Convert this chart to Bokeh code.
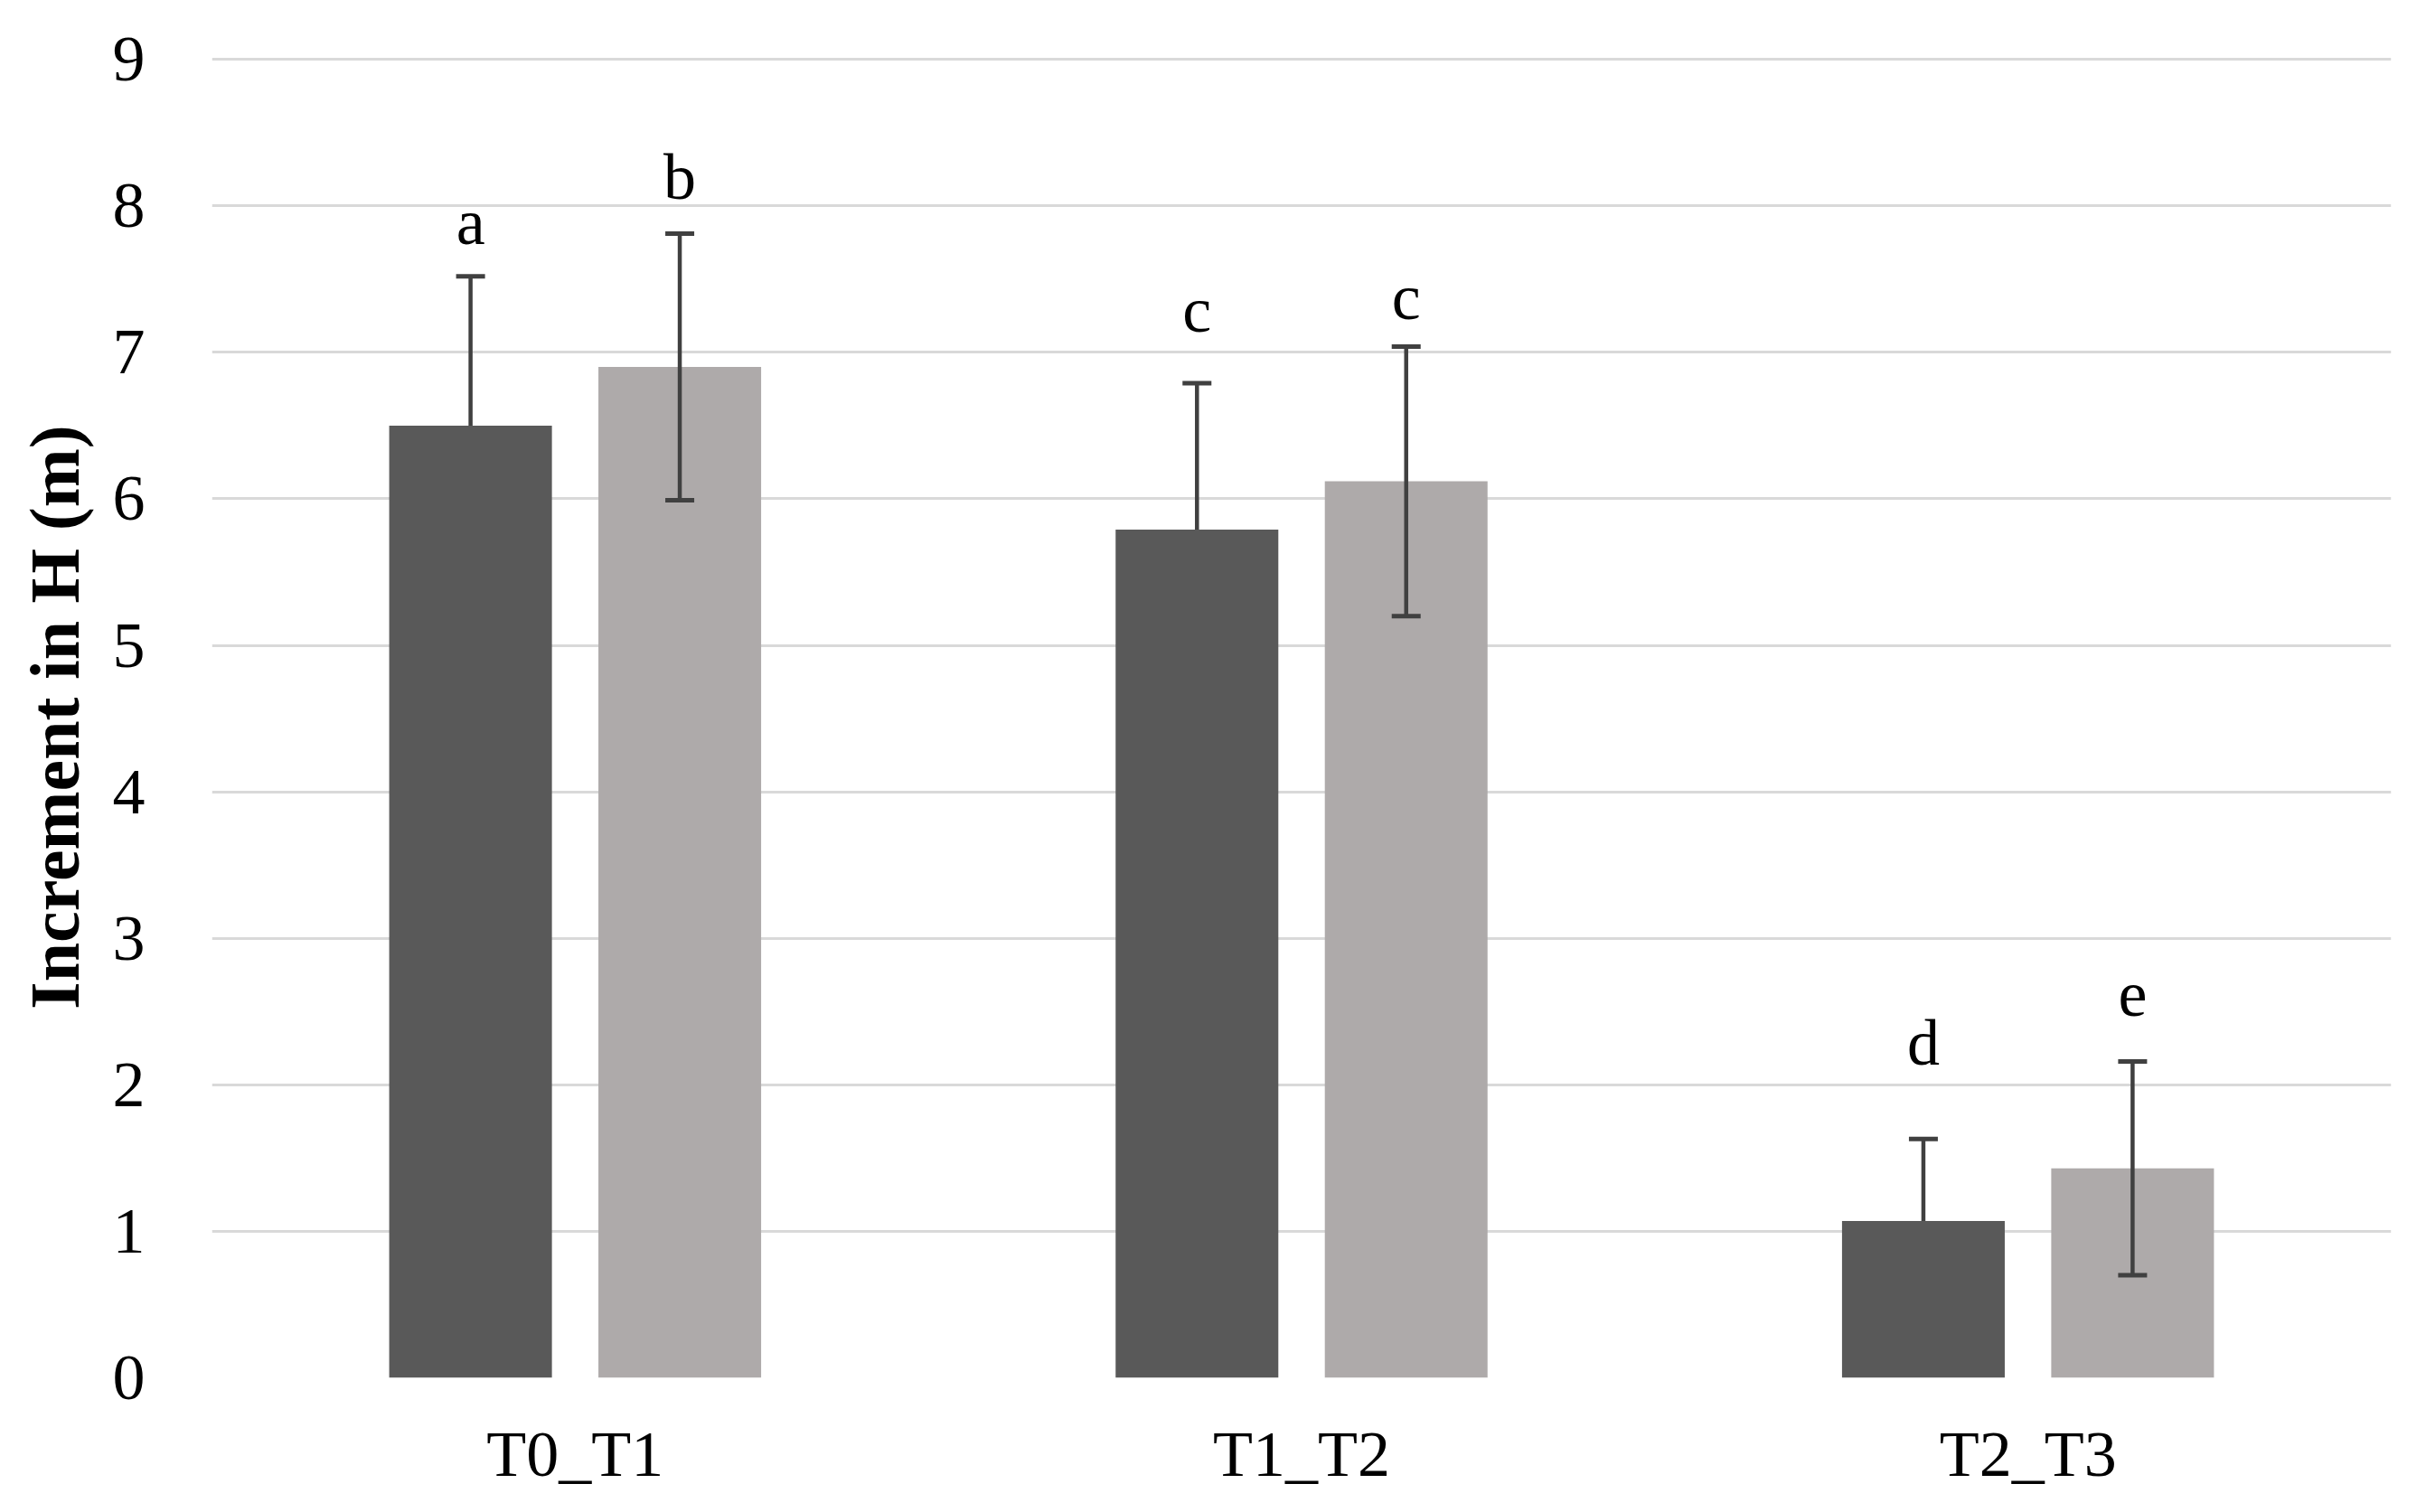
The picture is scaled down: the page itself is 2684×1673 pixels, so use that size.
from bokeh.plotting import figure
from bokeh.models import ColumnDataSource, Range1d, Whisker, FixedTicker, TeeHead
from bokeh.transform import dodge
from bokeh.core.properties import value
from bokeh.embed import file_html
from bokeh.resources import INLINE

categories = ["T0_T1", "T1_T2", "T2_T3"]
series1_values = [6.50, 5.79, 1.07]
series1_errors = [1.02, 1.00, 0.56]
series2_values = [6.90, 6.12, 1.43]
series2_errors = [0.91, 0.92, 0.73]
series1_letters = ["a", "c", "d"]
series2_letters = ["b", "c", "e"]
series1_letter_y = [7.72, 7.12, 2.12]
series2_letter_y = [8.03, 7.21, 2.45]
y_ticks = [0, 1, 2, 3, 4, 5, 6, 7, 8, 9]

FONT = "Liberation Serif"
DARK = "#595959"
LIGHT = "#AEAAAA"
ERR = "#404040"

src1 = ColumnDataSource(dict(
    cat=categories, val=series1_values,
    up=[v + e for v, e in zip(series1_values, series1_errors)],
    lo=series1_values,
    lab=series1_letters, ly=series1_letter_y))
src2 = ColumnDataSource(dict(
    cat=categories, val=series2_values,
    up=[v + e for v, e in zip(series2_values, series2_errors)],
    lo=[v - e for v, e in zip(series2_values, series2_errors)],
    lab=series2_letters, ly=series2_letter_y))

p = figure(x_range=categories, y_range=Range1d(0, 9.02),
           width=2668, height=1657, output_backend="svg",
           toolbar_location=None, min_border_left=234, min_border_right=23,
           min_border_top=62, min_border_bottom=133)
p.outline_line_color = None
p.background_fill_color = "white"
p.border_fill_color = "white"

off = 0.144
bw = 0.224
p.vbar(x=dodge("cat", -off, range=p.x_range), top="val", width=bw, source=src1,
       fill_color=DARK, line_color=None)
p.vbar(x=dodge("cat", off, range=p.x_range), top="val", width=bw, source=src2,
       fill_color=LIGHT, line_color=None)

w1 = Whisker(source=src1, base=dodge("cat", -off, range=p.x_range), upper="up", lower="lo",
             line_color=ERR, line_width=4.5, level="overlay",
             upper_head=TeeHead(size=32, line_color=ERR, line_width=5),
             lower_head=None)
w2 = Whisker(source=src2, base=dodge("cat", off, range=p.x_range), upper="up", lower="lo",
             line_color=ERR, line_width=4.5, level="overlay",
             upper_head=TeeHead(size=32, line_color=ERR, line_width=5),
             lower_head=TeeHead(size=32, line_color=ERR, line_width=5))
p.add_layout(w1)
p.add_layout(w2)

for src, o in ((src1, -off), (src2, off)):
    p.text(x=dodge("cat", o, range=p.x_range), y="ly", text="lab", source=src,
           text_font=value(FONT), text_font_size="72px", text_color="black",
           text_align="center", text_baseline="alphabetic", y_offset=-27)

p.xgrid.grid_line_color = None
p.ygrid.grid_line_color = "#D9D9D9"
p.ygrid.grid_line_width = 3
p.yaxis.ticker = FixedTicker(ticks=y_ticks)

for ax in (p.xaxis[0], p.yaxis[0]):
    ax.axis_line_color = None
    ax.major_tick_line_color = None
    ax.minor_tick_line_color = None
    ax.major_label_text_font = FONT
    ax.major_label_text_font_size = "72px"
    ax.major_label_text_color = "#000000"

p.yaxis.major_label_standoff = 68
p.xaxis.major_label_standoff = 38
p.yaxis.axis_label = "Increment in H (m)"
p.yaxis.axis_label_text_font = FONT
p.yaxis.axis_label_text_font_style = "bold"
p.yaxis.axis_label_text_font_size = "78px"
p.yaxis.axis_label_text_color = "#000000"
p.yaxis.axis_label_standoff = 18

open("out.html", "w").write(file_html(p, INLINE))
